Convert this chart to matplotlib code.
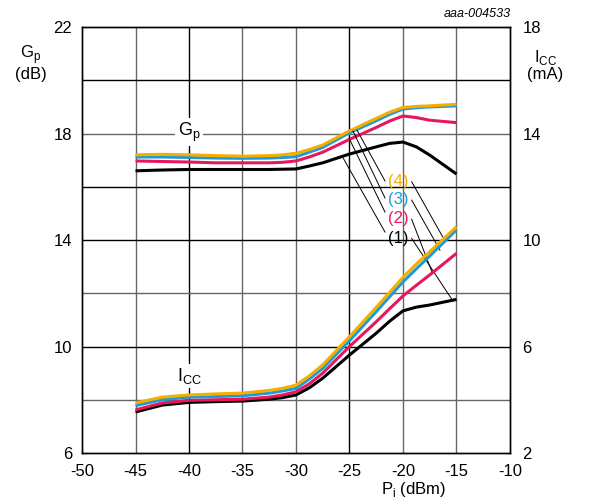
import matplotlib
matplotlib.use("Agg")
import matplotlib.pyplot as plt

plt.rcParams['font.family'] = ['Liberation Sans', 'DejaVu Sans']
plt.rcParams['axes.unicode_minus'] = False
plt.rcParams['mathtext.fontset'] = 'custom'
plt.rcParams['mathtext.rm'] = 'Liberation Sans'

# input power (dBm)
pi_dbm = [-45, -42.5, -40, -37.5, -35, -32.5, -31.25, -30, -28.75, -27.5, -25,
          -22.5, -21.25, -20, -18.75, -17.5, -15]

# power gain Gp (dB), curves (1)..(4)
gp = {
    '1': [16.6, 16.63, 16.65, 16.65, 16.65, 16.65, 16.66, 16.67, 16.78, 16.9, 17.23,
          17.5, 17.63, 17.68, 17.5, 17.19, 16.48],
    '2': [16.97, 16.95, 16.93, 16.9, 16.9, 16.9, 16.92, 16.97, 17.12, 17.3, 17.78,
          18.23, 18.47, 18.66, 18.6, 18.5, 18.41],
    '3': [17.12, 17.12, 17.1, 17.08, 17.07, 17.08, 17.1, 17.13, 17.3, 17.48, 18.03,
          18.48, 18.72, 18.92, 18.97, 19.0, 19.04],
    '4': [17.2, 17.22, 17.2, 17.17, 17.15, 17.17, 17.2, 17.26, 17.4, 17.57, 18.1,
          18.57, 18.8, 18.98, 19.02, 19.04, 19.1],
}

# supply current ICC (mA), curves (1)..(4)
icc = {
    '1': [3.54, 3.8, 3.9, 3.93, 3.95, 4.02, 4.08, 4.18, 4.45, 4.81, 5.68,
          6.5, 6.95, 7.34, 7.48, 7.56, 7.77],
    '2': [3.62, 3.88, 3.98, 4.0, 4.02, 4.1, 4.18, 4.3, 4.6, 5.0, 6.0,
          6.93, 7.42, 7.9, 8.3, 8.69, 9.5],
    '3': [3.78, 4.0, 4.1, 4.12, 4.15, 4.25, 4.33, 4.43, 4.78, 5.18, 6.22,
          7.31, 7.87, 8.43, 8.92, 9.4, 10.38],
    '4': [3.88, 4.1, 4.18, 4.22, 4.25, 4.35, 4.43, 4.55, 4.9, 5.31, 6.37,
          7.47, 8.03, 8.6, 9.1, 9.56, 10.5],
}

colours = {'1': '#000000', '2': '#e8175d', '3': '#1b9bd7', '4': '#f7ad00'}

# label positions and leader lines (left axis data coords)
label_x = -20.47
label_y = {'4': 16.18, '3': 15.54, '2': 14.79, '1': 14.04}
leaders_gp = {
    '1': [(-25.58, 17.07), (-21.68, 14.30)],
    '2': [(-25.05, 17.83), (-21.68, 15.05)],
    '3': [(-24.67, 18.09), (-21.68, 15.58)],
    '4': [(-24.3, 18.13), (-21.68, 16.22)],
}
leaders_icc = {
    '4': [(-19.19, 16.19), (-16.29, 14.12)],
    '3': [(-19.19, 15.50), (-16.54, 13.62)],
    '2': [(-19.19, 14.78), (-17.29, 12.80)],
    '1': [(-19.19, 14.06), (-15.33, 11.71)],
}

fig = plt.figure(figsize=(5.93, 5.01), dpi=100)
ax = fig.add_axes([0.1383, 0.0958, 0.7217, 0.8502])
ax2 = ax.twinx()

ax.set_xlim(-50, -10)
ax.set_ylim(6, 22)
ax2.set_ylim(2, 18)

ax.set_xticks(range(-50, -9, 5))
ax.set_yticks([6, 10, 14, 18, 22])
ax2.set_yticks([2, 6, 10, 14, 18])
ax.tick_params(axis='x', length=0, labelsize=12, pad=8)
ax.tick_params(axis='y', length=0, labelsize=12, pad=7)
ax2.tick_params(length=0, labelsize=12, pad=9)

# grid lines, drawn by hand in two tones like the original
for xv in [-45, -40, -35, -30, -25, -20, -15]:
    c = '#000000' if xv in (-40, -25) else '#666666'
    ax.axvline(xv, color=c, lw=1.0, zorder=0)
for yv in [8, 10, 12, 14, 16, 18, 20]:
    c = '#000000' if yv in (10, 14, 16, 20) else '#666666'
    ax.axhline(yv, color=c, lw=1.0, zorder=0)

for sp in list(ax.spines.values()) + list(ax2.spines.values()):
    sp.set_linewidth(1.0)

for k in ['1', '2', '3', '4']:
    ax.plot(pi_dbm, gp[k], color=colours[k], lw=2.2, solid_joinstyle='round',
            solid_capstyle='butt', zorder=3)
    ax2.plot(pi_dbm, icc[k], color=colours[k], lw=2.2, solid_joinstyle='round',
             solid_capstyle='butt', zorder=3)

for k, pts in leaders_gp.items():
    ax.plot([pts[0][0], pts[1][0]], [pts[0][1], pts[1][1]], color='black', lw=0.7, zorder=4)
for k, pts in leaders_icc.items():
    ax.plot([pts[0][0], pts[1][0]], [pts[0][1], pts[1][1]], color='black', lw=0.7, zorder=4)

for k, yv in label_y.items():
    ax.text(label_x, yv, '(%s)' % k, color=colours[k], fontsize=12,
            ha='center', va='center', zorder=5)

ax.text(-40, 18.05, r'G$_\mathregular{p}$', fontsize=13, ha='center', va='center',
        bbox=dict(facecolor='white', edgecolor='none', pad=1.5), zorder=5)
ax.text(-40, 8.9, r'I$_\mathregular{CC}$', fontsize=13, ha='center', va='center',
        bbox=dict(facecolor='white', edgecolor='none', pad=1.5), zorder=5)

fig.text(0.052, 0.875, 'G$_\\mathregular{p}$\n(dB)', fontsize=12, ha='center', va='center',
         linespacing=1.05)
fig.text(0.92, 0.87, 'I$_\\mathregular{CC}$\n(mA)', fontsize=12, ha='center', va='center',
         linespacing=1.05)
fig.text(0.862, 0.972, 'aaa-004533', fontsize=9, style='italic', ha='right', va='center')
fig.text(0.697, 0.022, 'P$_\\mathregular{i}$ (dBm)', fontsize=12, ha='center', va='center')

fig.savefig('out.png', dpi=100)
